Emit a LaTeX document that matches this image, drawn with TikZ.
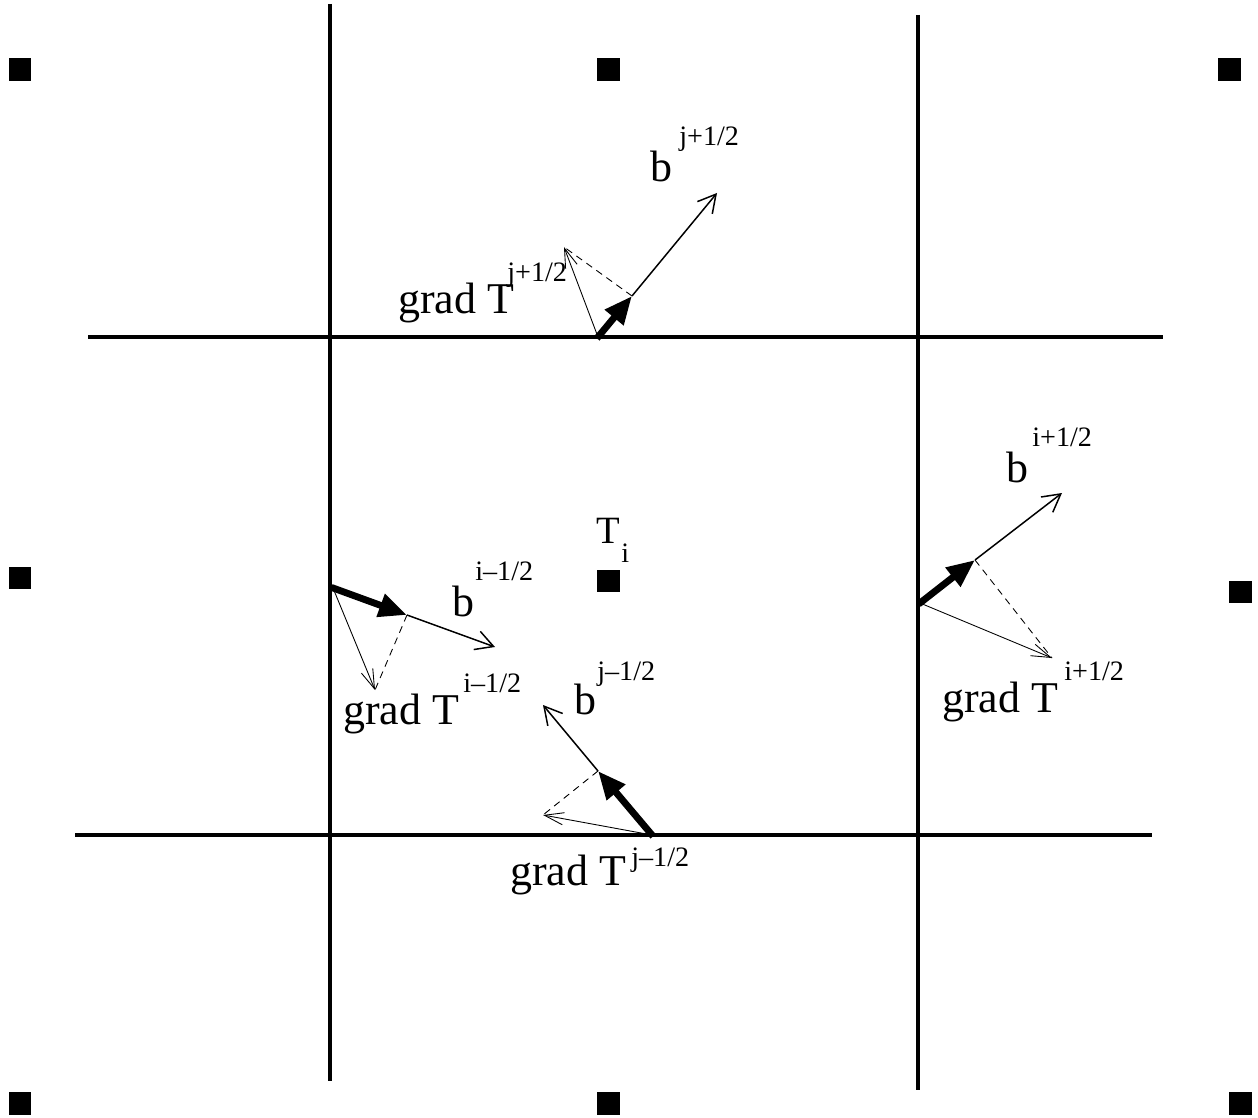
\documentclass[tikz,border=0pt]{standalone}
\usepackage{fontspec}
\setmainfont{Liberation Serif}
\usetikzlibrary{arrows.meta}
\tikzset{
    gridline/.style={line width=2.2pt, line cap=butt},
    cellmark/.style={rectangle, fill=black, inner sep=0pt, minimum size=0.46cm},
    bthick/.style={-{Triangle[length=16pt, width=13pt]}, line width=3.9pt, shorten <=-1pt},
    bthin/.style={-{Straight Barb[length=10pt, width=11pt]}, line width=0.85pt},
    gradvec/.style={-{Straight Barb[length=11pt, width=7pt]}, line width=0.5pt},
    projline/.style={line width=0.5pt, dash pattern=on 4pt off 3pt},
    mainlab/.style={font=\fontsize{25}{27}\selectfont, anchor=base west, inner sep=0pt},
    suplab/.style={font=\fontsize{16}{18}\selectfont, anchor=base west, inner sep=0pt},
}
\begin{document}
\begin{tikzpicture}[x=0.02cm, y=-0.02cm]
    \useasboundingbox (0,0) rectangle (1258,1118);

    % cell centres
    \node[cellmark] (c11) at (20,70) {};
    \node[cellmark] (c12) at (608,70) {};
    \node[cellmark] (c13) at (1229,70) {};
    \node[cellmark] (c21) at (20,578) {};
    \node[cellmark] (c22) at (608,581) {};
    \node[cellmark] (c23) at (1240,592) {};
    \node[cellmark] (c31) at (20,1103) {};
    \node[cellmark] (c32) at (608,1103) {};
    \node[cellmark] (c33) at (1240,1103) {};

    % cell faces
    \draw[gridline] (330,4) -- (330,1081);
    \draw[gridline] (918,15) -- (918,1090);
    \draw[gridline] (88,337) -- (1163,337);
    \draw[gridline] (75,835) -- (1152,835);

    \node[mainlab, font=\fontsize{22}{24}\selectfont] (tcen) at (596,543) {T};
    \node[suplab] (tsub) at (621,562) {i};

    % face j+1/2
    \coordinate (tO) at (598,337);
    \coordinate (tB) at (632,296);
    \coordinate (tE) at (717,193);
    \coordinate (tG) at (564,247);
    \draw[gradvec] (tO) -- (tG);
    \draw[projline] (tB) -- (tG);
    \draw[bthin] (tB) -- (tE);
    \draw[bthick] (tO) -- (tB);
    \node[mainlab] (gtop) at (398,314) {grad T};
    \node[suplab] (gtops) at (507,282) {j+1/2};
    \node[mainlab] (btop) at (650,182) {b};
    \node[suplab] (btops) at (679,146) {j+1/2};

    % face i-1/2
    \coordinate (lO) at (333,588);
    \coordinate (lB) at (407,615);
    \coordinate (lE) at (495,647);
    \coordinate (lG) at (375,690);
    \draw[gradvec] (lO) -- (lG);
    \draw[projline] (lB) -- (lG);
    \draw[bthin] (lB) -- (lE);
    \draw[bthick] (lO) -- (lB);
    \node[mainlab] (blft) at (452,616) {b};
    \node[suplab] (blfts) at (475,580) {i\textendash1/2};
    \node[mainlab] (glft) at (343,724) {grad T};
    \node[suplab] (glfts) at (463,692) {i\textendash1/2};

    % face j-1/2
    \coordinate (bO) at (652,835);
    \coordinate (bB) at (598,771);
    \coordinate (bE) at (543,705);
    \coordinate (bG) at (543,815);
    \draw[gradvec] (bO) -- (bG);
    \draw[projline] (bB) -- (bG);
    \draw[bthin] (bB) -- (bE);
    \draw[bthick] (bO) -- (bB);
    \node[mainlab] (bbot) at (574,714) {b};
    \node[suplab] (bbots) at (597,680) {j\textendash1/2};
    \node[mainlab] (gbot) at (510,885) {grad T};
    \node[suplab] (gbots) at (631,866) {j\textendash1/2};

    % face i+1/2
    \coordinate (rO) at (920,603);
    \coordinate (rB) at (975,560);
    \coordinate (rE) at (1062,493);
    \coordinate (rG) at (1052,658);
    \draw[gradvec] (rO) -- (rG);
    \draw[projline] (rB) -- (rG);
    \draw[bthin] (rB) -- (rE);
    \draw[bthick] (rO) -- (rB);
    \node[mainlab] (brgt) at (1006,482) {b};
    \node[suplab] (brgts) at (1032,447) {i+1/2};
    \node[mainlab] (grgt) at (942,712) {grad T};
    \node[suplab] (grgts) at (1064,680) {i+1/2};
\end{tikzpicture}
\end{document}
